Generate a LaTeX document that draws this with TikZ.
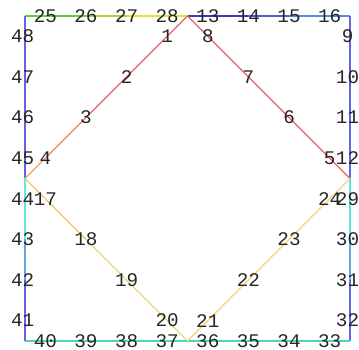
\documentclass[tikz,border=0pt]{standalone}
\usepackage{fontspec}
\setmonofont{Liberation Mono}

\definecolor{sqgreen}{HTML}{5CCF3C}
\definecolor{sqyellow}{HTML}{E8E232}
\definecolor{sqnavy}{HTML}{3A3ABF}
\definecolor{sqsky}{HTML}{5A86E4}
\definecolor{sqblue}{HTML}{6464E2}
\definecolor{sqcyan}{HTML}{62E6DA}
\definecolor{sqaqua}{HTML}{4ED6B2}
\definecolor{dmred}{HTML}{EC6262}
\definecolor{dmorange}{HTML}{F0A464}
\definecolor{dmgold}{HTML}{F0C864}
\definecolor{dmsand}{HTML}{F0D480}

\begin{document}
\begin{tikzpicture}
[
  num/.style={font=\ttfamily\fontsize{13.5}{14}\selectfont, inner sep=0pt, text=black!85},
  sidenum/.style={num, xshift=-0.06cm},
  wire/.style={line width=0.9pt}
]
  \useasboundingbox (-0.616,-0.222) rectangle (8.222,8.394);

  % corners and midpoints
  \coordinate (tl) at (0,8);
  \coordinate (tr) at (8,8);
  \coordinate (br) at (8,0);
  \coordinate (bl) at (0,0);
  \coordinate (top) at (4,8);
  \coordinate (right) at (8,4);
  \coordinate (bottom) at (4,0);
  \coordinate (left) at (0,4);

  % diamond
  \coordinate (p1) at (3.5,7.5);
  \coordinate (p2) at (2.5,6.5);
  \coordinate (p3) at (1.5,5.5);
  \coordinate (p4) at (0.5,4.5);
  \coordinate (p5) at (7.5,4.5);
  \coordinate (p6) at (6.5,5.5);
  \coordinate (p7) at (5.5,6.5);
  \coordinate (p8) at (4.5,7.5);
  \coordinate (p17) at (0.5,3.5);
  \coordinate (p18) at (1.5,2.5);
  \coordinate (p19) at (2.5,1.5);
  \coordinate (p20) at (3.5,0.5);
  \coordinate (p21) at (4.5,0.5);
  \coordinate (p22) at (5.5,1.5);
  \coordinate (p23) at (6.5,2.5);
  \coordinate (p24) at (7.5,3.5);

  % square
  \coordinate (p25) at (0.5,8);
  \coordinate (p26) at (1.5,8);
  \coordinate (p27) at (2.5,8);
  \coordinate (p28) at (3.5,8);
  \coordinate (p13) at (4.5,8);
  \coordinate (p14) at (5.5,8);
  \coordinate (p15) at (6.5,8);
  \coordinate (p16) at (7.5,8);
  \coordinate (p9) at (8,7.5);
  \coordinate (p10) at (8,6.5);
  \coordinate (p11) at (8,5.5);
  \coordinate (p12) at (8,4.5);
  \coordinate (p29) at (8,3.5);
  \coordinate (p30) at (8,2.5);
  \coordinate (p31) at (8,1.5);
  \coordinate (p32) at (8,0.5);
  \coordinate (p33) at (7.5,0);
  \coordinate (p34) at (6.5,0);
  \coordinate (p35) at (5.5,0);
  \coordinate (p36) at (4.5,0);
  \coordinate (p37) at (3.5,0);
  \coordinate (p38) at (2.5,0);
  \coordinate (p39) at (1.5,0);
  \coordinate (p40) at (0.5,0);
  \coordinate (p41) at (0,0.5);
  \coordinate (p42) at (0,1.5);
  \coordinate (p43) at (0,2.5);
  \coordinate (p44) at (0,3.5);
  \coordinate (p45) at (0,4.5);
  \coordinate (p46) at (0,5.5);
  \coordinate (p47) at (0,6.5);
  \coordinate (p48) at (0,7.5);

  \draw[wire, sqgreen] (tl) -- (p26);
  \draw[wire, sqgreen!50!sqyellow] (p26) -- (p27);
  \draw[wire, sqyellow] (p27) -- (top);
  \draw[wire, sqnavy] (top) -- (p14);
  \draw[wire, sqnavy!50!sqsky] (p14) -- (p15);
  \draw[wire, sqsky] (p15) -- (tr);
  \draw[wire, sqblue] (tr) -- (right);
  \draw[wire, sqcyan] (right) -- (p30);
  \draw[wire, sqcyan!50!sqblue] (p30) -- (p31);
  \draw[wire, sqblue] (p31) -- (br);
  \draw[wire, sqaqua] (br) -- (bl);
  \draw[wire, sqblue] (tl) -- (left);
  \draw[wire, sqcyan] (left) -- (p43);
  \draw[wire, sqcyan!50!sqblue] (p43) -- (p42);
  \draw[wire, sqblue] (p42) -- (bl);

  \draw[wire, dmred] (top) -- (p3);
  \draw[wire, dmred!50!dmorange] (p3) -- (p4);
  \draw[wire, dmorange] (p4) -- (left);
  \draw[wire, dmred] (top) -- (right);
  \draw[wire, dmgold] (left) -- (p18);
  \draw[wire, dmsand] (p18) -- (bottom);
  \draw[wire, dmsand] (bottom) -- (right);

  \node[num] (n1) at (p1) {1};
  \node[num] (n2) at (p2) {2};
  \node[num] (n3) at (p3) {3};
  \node[num] (n4) at (p4) {4};
  \node[num] (n5) at (p5) {5};
  \node[num] (n6) at (p6) {6};
  \node[num] (n7) at (p7) {7};
  \node[num] (n8) at (p8) {8};
  \node[sidenum] (n9) at (p9) {9};
  \node[sidenum] (n10) at (p10) {10};
  \node[sidenum] (n11) at (p11) {11};
  \node[sidenum] (n12) at (p12) {12};
  \node[num] (n13) at (p13) {13};
  \node[num] (n14) at (p14) {14};
  \node[num] (n15) at (p15) {15};
  \node[num] (n16) at (p16) {16};
  \node[num] (n17) at (p17) {17};
  \node[num] (n18) at (p18) {18};
  \node[num] (n19) at (p19) {19};
  \node[num] (n20) at (p20) {20};
  \node[num] (n21) at (p21) {21};
  \node[num] (n22) at (p22) {22};
  \node[num] (n23) at (p23) {23};
  \node[num] (n24) at (p24) {24};
  \node[num] (n25) at (p25) {25};
  \node[num] (n26) at (p26) {26};
  \node[num] (n27) at (p27) {27};
  \node[num] (n28) at (p28) {28};
  \node[sidenum] (n29) at (p29) {29};
  \node[sidenum] (n30) at (p30) {30};
  \node[sidenum] (n31) at (p31) {31};
  \node[sidenum] (n32) at (p32) {32};
  \node[num] (n33) at (p33) {33};
  \node[num] (n34) at (p34) {34};
  \node[num] (n35) at (p35) {35};
  \node[num] (n36) at (p36) {36};
  \node[num] (n37) at (p37) {37};
  \node[num] (n38) at (p38) {38};
  \node[num] (n39) at (p39) {39};
  \node[num] (n40) at (p40) {40};
  \node[sidenum] (n41) at (p41) {41};
  \node[sidenum] (n42) at (p42) {42};
  \node[sidenum] (n43) at (p43) {43};
  \node[sidenum] (n44) at (p44) {44};
  \node[sidenum] (n45) at (p45) {45};
  \node[sidenum] (n46) at (p46) {46};
  \node[sidenum] (n47) at (p47) {47};
  \node[sidenum] (n48) at (p48) {48};
\end{tikzpicture}
\end{document}
